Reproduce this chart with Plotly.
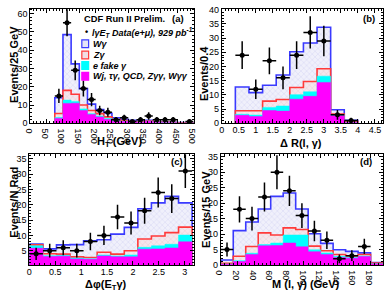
import numpy as np
import plotly.graph_objects as go

# ---------------- Panel (a): H_T ----------------
ht_edges = [75, 100, 125, 150, 175, 200, 225, 250, 275, 300, 325, 350, 375, 400, 425, 450, 475, 500]
ht_wg = [14, 48.5, 32.5, 19, 10.5, 7.5, 5.5, 3, 2.2, 1.6, 1.3, 1.6, 0.9, 0.7, 0.5, 0.4, 0.3]
ht_zg = [5.4, 18, 15.9, 10, 7, 5.3, 3.5, 2, 1.5, 1, 0.8, 1.3, 0.6, 0.5, 0.4, 0.3, 0.2]
ht_efake = [3.2, 12.7, 12, 7.9, 5.3, 4, 2.6, 1.5, 1.2, 0.8, 0.7, 1.2, 0.5, 0.4, 0.3, 0.2, 0.2]
ht_other = [2.7, 10.9, 11, 7, 4.8, 3.5, 2.1, 1.2, 1, 0.7, 0.6, 1.1, 0.4, 0.35, 0.25, 0.15, 0.15]
ht_data_x = [87.5, 112.5, 137.5, 162.5, 187.5, 212.5, 237.5, 262.5, 287.5, 312.5, 337.5, 362.5, 387.5, 412.5, 437.5, 487.5]
ht_data = [15, 55, 29, 19, 13, 7, 6, 2, 3, 1, 2, 4, 2, 2, 2, 1]

# ---------------- Panel (b): Delta R ----------------
dr_edges = [0.4, 0.8, 1.2, 1.6, 2.0, 2.4, 2.8, 3.2, 3.6, 4.0]
dr_wg = [12.8, 10.8, 13.4, 17, 25.2, 28.3, 33.8, 4.8, 1.1]
dr_zg = [4.4, 4.4, 7.8, 8.4, 12.6, 14.7, 19.2, 3.3, 0.6]
dr_efake = [3.2, 2.9, 5.6, 6.1, 10.1, 11.1, 16.6, 3.0, 0.4]
dr_other = [2.8, 2.4, 4.5, 4.3, 8.5, 9.5, 14.4, 2.7, 0.3]
dr_data_x = [0.6, 1.0, 1.4, 1.8, 2.2, 2.6, 3.0, 3.4, 3.8]
dr_data = [24, 12, 22, 16, 24, 32, 29, 3, 1]

# ---------------- Panel (c): Delta phi ----------------
dphi_edges = [0, 0.2618, 0.5236, 0.7854, 1.0472, 1.3090, 1.5708, 1.8326, 2.0944, 2.3562, 2.6180, 2.8798, 3.1416]
dphi_wg = [7.2, 5.6, 6.9, 7.0, 8.2, 8.6, 10.4, 12.6, 18.7, 20.6, 22.7, 20.6]
dphi_zg = [6.9, 4.0, 3.9, 3.0, 2.8, 4.5, 3.9, 5.0, 8.8, 9.8, 10.9, 12.7]
dphi_efake = [6.6, 3.4, 3.5, 2.6, 2.4, 3.6, 3.3, 3.6, 6.1, 6.6, 7.1, 10.1]
dphi_other = [5.8, 3.1, 3.2, 2.3, 2.2, 3.3, 3.0, 3.0, 5.5, 5.6, 5.9, 7.9]
dphi_data_x = [0.131, 0.393, 0.654, 0.916, 1.178, 1.440, 1.702, 1.963, 2.225, 2.487, 2.749, 3.011]
dphi_data = [4, 5, 6, 5, 8, 10, 16, 14, 18, 24, 22, 31]

# ---------------- Panel (d): M(l, gamma) ----------------
m_edges = [0, 15, 30, 45, 60, 75, 90, 105, 120, 135, 150, 165, 180, 195]
m_wg = [1.6, 11.1, 13.9, 18.1, 22.2, 23.3, 18.1, 10.1, 7.0, 4.9, 4.4, 3.9, 0.8]
m_zg = [0.5, 2.8, 6.0, 10.4, 9.7, 12.0, 11.5, 6.1, 4.6, 3.4, 2.9, 3.4, 0.6]
m_efake = [0.3, 1.4, 3.8, 6.6, 7.1, 9.7, 9.7, 4.9, 3.9, 2.8, 2.4, 2.9, 0.4]
m_other = [0.2, 1.1, 3.4, 6.2, 6.3, 7.1, 5.9, 4.3, 3.4, 2.4, 2.2, 2.7, 0.3]
m_data_x = [7.5, 22.5, 37.5, 52.5, 67.5, 82.5, 97.5, 112.5, 127.5, 142.5, 157.5, 172.5]
m_data = [5, 18, 15, 22, 30, 24, 16, 11, 8, 2, 3, 6]

W, H = 389, 301
FONT = "Liberation Sans"

fig = go.Figure()

styles = [
    dict(line=dict(color="#3a3aff", width=1.6),
         fillpattern=dict(shape="x", fgcolor="#b4b4ea", bgcolor="#f0f0fb", size=4, solidity=0.2)),
    dict(line=dict(color="#ff3a3a", width=1.6),
         fillpattern=dict(shape="x", fgcolor="#dcaab8", bgcolor="#f4e6ec", size=4, solidity=0.2)),
    dict(line=dict(color="#00ffff", width=0.5), fillcolor="#00ffff"),
    dict(line=dict(color="#ff00ff", width=0.5), fillcolor="#ff00ff"),
]


def step(edges, vals):
    xs = [edges[0]] + list(edges[:-1]) + [edges[-1]]
    ys = [0] + list(vals) + [0]
    return xs, ys


panels = [
    (ht_edges, [ht_wg, ht_zg, ht_efake, ht_other], ht_data_x, ht_data, "x", "y"),
    (dr_edges, [dr_wg, dr_zg, dr_efake, dr_other], dr_data_x, dr_data, "x2", "y2"),
    (dphi_edges, [dphi_wg, dphi_zg, dphi_efake, dphi_other], dphi_data_x, dphi_data, "x3", "y3"),
    (m_edges, [m_wg, m_zg, m_efake, m_other], m_data_x, m_data, "x4", "y4"),
]

for edges, layers, dx, dy, xa, ya in panels:
    for vals, st in zip(layers, styles):
        xs, ys = step(edges, vals)
        fig.add_trace(go.Scatter(x=xs, y=ys, mode="lines", line_shape="hv", fill="tozeroy",
                                 xaxis=xa, yaxis=ya, hoverinfo="skip", **st))
    bw = edges[1] - edges[0]
    fig.add_trace(go.Scatter(
        x=dx, y=dy, mode="markers", xaxis=xa, yaxis=ya, hoverinfo="skip",
        marker=dict(color="black", size=5),
        error_y=dict(type="data", array=list(np.sqrt(dy)), color="black", thickness=1.5, width=0),
        error_x=dict(type="data", array=[bw / 2] * len(dx), color="black", thickness=1.5, width=0),
    ))


def ax(domain, rng, dtick, mdtick, anchor, standoff=0):
    return dict(domain=domain, range=rng, dtick=dtick, tick0=0, anchor=anchor,
                showline=True, linecolor="black", linewidth=1, mirror="allticks",
                ticks="inside", ticklen=4, tickwidth=1, tickcolor="black",
                minor=dict(ticks="inside", ticklen=2, tickcolor="black", dtick=mdtick),
                showgrid=False, zeroline=False, ticklabelstandoff=standoff,
                tickfont=dict(family=FONT, size=9, color="black"))


def px(x):
    return x / W


def py(y):
    return 1 - y / H


ya_top = [py(123), py(5)]
ya_bot = [py(269), py(155)]

fig.update_layout(
    width=W, height=H, margin=dict(l=0, r=0, t=0, b=0),
    paper_bgcolor="white", plot_bgcolor="white", showlegend=False,
    xaxis=ax([px(24), px(192)], [0, 500], 50, 10, "y", -2),
    yaxis=ax(ya_top, [0, 62.6], 10, 2, "x"),
    xaxis2=ax([px(221), px(387)], [0, 4.74], 0.5, 0.1, "y2", -2),
    yaxis2=ax(ya_top, [0, 40.3], 5, 1, "x2"),
    xaxis3=ax([px(23), px(192)], [0, 3.17], 0.5, 0.1, "y3", -2),
    yaxis3=ax(ya_bot, [0.36, 36.4], 5, 1, "x3"),
    xaxis4=ax([px(220), px(387)], [0, 195], 20, 5, "y4", -2),
    yaxis4=ax(ya_bot, [0, 35.8], 5, 1, "x4"),
)

ann = []


def text(t, x, y, size=11, angle=0, xanchor="center", yanchor="middle", bold=True, italic=False):
    ann.append(dict(text=t, x=px(x), y=py(y), xref="paper", yref="paper", showarrow=False,
                    xanchor=xanchor, yanchor=yanchor, textangle=angle,
                    font=dict(family=FONT, size=size, color="black",
                              weight="bold" if bold else "normal",
                              style="italic" if italic else "normal")))


# axis titles
text("Events/25 GeV", 7, 62, angle=-90)
text("H<sub>T</sub> (GeV)", 116, 133, yanchor="top")
text("Events/0.4", 203, 72, angle=-90)
text("Δ R(l, γ)", 303, 135, yanchor="top")
text("Events/N Rad", 7, 204, angle=-90)
text("Δφ(E<sub>T</sub>γ)", 102, 280, yanchor="top")
text("Events/15 GeV", 204, 212, angle=-90)
text("M (l, γ) (GeV)", 308, 280, yanchor="top")

# panel labels
text("(a)", 176, 15, size=9.5)
text("(b)", 373, 15, size=9.5)
text("(c)", 175, 162, size=9.5)
text("(d)", 369, 162, size=9.5)

# legend
text("CDF Run II Prelim.", 77, 15, size=9.3, xanchor="left")
text("•", 78, 29, size=9, xanchor="left")
text("lγE<sub>T</sub> Data(e+μ), 929 pb<sup>-1</sup>", 85, 29, size=9, xanchor="left", italic=True)
leg = [("Wγ", 41, "#3a3aff", "#e4e4f7"), ("Zγ", 52.5, "#ff3a3a", "#f1dde4"),
       ("e fake γ", 63.5, "#00ffff", "#00ffff"), ("Wj, τγ, QCD, Zγγ, Wγγ", 74.5, "#ff00ff", "#ff00ff")]
shapes = []
for label, yc, lc, fc in leg:
    shapes.append(dict(type="rect", xref="paper", yref="paper",
                       x0=px(77), x1=px(84), y0=py(yc + 4), y1=py(yc - 4),
                       line=dict(color=lc, width=1.2), fillcolor=fc))
    text(label, 86, yc, size=9, xanchor="left", italic=True)

fig.update_layout(annotations=ann, shapes=shapes, hovermode=False)
fig.write_html("out.html", config={"displayModeBar": False},
               post_script="document.body.style.margin='0px';")
